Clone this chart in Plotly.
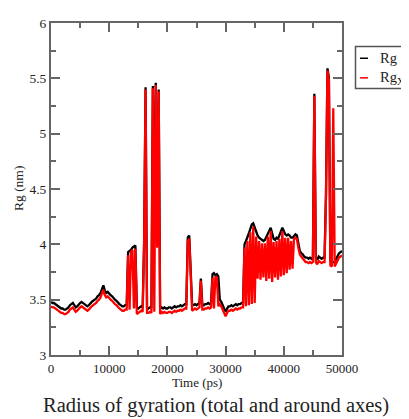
import plotly.graph_objects as go

# ---------------- data ----------------
time_ps = list(range(0, 50001, 250))

rg_total = [
    # 0 - 4750
    3.48, 3.47, 3.47, 3.46, 3.45, 3.44, 3.43, 3.42, 3.42, 3.41, 3.41, 3.42, 3.43, 3.45, 3.46, 3.47, 3.45, 3.43, 3.44, 3.46,
    # 5000 - 9750
    3.47, 3.48, 3.47, 3.46, 3.45, 3.44, 3.45, 3.47, 3.48, 3.49, 3.50, 3.51, 3.53, 3.54, 3.56, 3.59, 3.63, 3.58, 3.56, 3.57,
    # 10000 - 14750
    3.55, 3.54, 3.53, 3.51, 3.50, 3.49, 3.47, 3.46, 3.45, 3.44, 3.44, 3.45, 3.45, 3.93, 3.94, 3.95, 3.97, 3.98, 3.99, 3.43,
    # 15000 - 19750
    3.42, 3.43, 3.44, 3.43, 4.03, 5.42, 3.43, 3.42, 3.43, 3.43, 5.43, 4.01, 5.46, 3.99, 5.40, 3.42, 3.43, 3.42, 3.43, 3.42,
    # 20000 - 24750
    3.42, 3.43, 3.43, 3.42, 3.43, 3.44, 3.43, 3.44, 3.44, 3.45, 3.44, 3.45, 3.46, 3.46, 4.06, 4.08, 3.74, 3.45, 3.45, 3.46,
    # 25000 - 29750
    3.45, 3.46, 3.47, 3.69, 3.46, 3.45, 3.46, 3.46, 3.47, 3.46, 3.47, 3.73, 3.74, 3.72, 3.73, 3.71, 3.50, 3.48, 3.45, 3.42,
    # 30000 - 34750
    3.39, 3.42, 3.44, 3.44, 3.45, 3.44, 3.45, 3.46, 3.45, 3.46, 3.46, 3.47, 3.47, 4.00, 4.03, 4.06, 4.10, 4.14, 4.18, 4.19,
    # 35000 - 39750
    4.15, 4.10, 4.08, 4.06, 4.05, 4.04, 4.03, 4.04, 4.07, 4.10, 4.13, 4.15, 4.10, 4.05, 4.04, 4.06, 4.05, 4.08, 4.12, 4.15,
    # 40000 - 44750
    4.12, 4.09, 4.08, 4.09, 4.08, 4.06, 4.06, 4.08, 4.09, 4.08, 4.00, 3.94, 3.92, 3.91, 3.89, 3.88, 3.88, 3.87, 3.88, 3.87,
    # 45000 - 49750
    3.88, 5.36, 3.88, 3.86, 3.89, 3.88, 3.87, 3.88, 3.88, 4.46, 5.59, 5.51, 3.85, 3.84, 3.84, 3.84, 3.87, 3.90, 3.92, 3.93,
    # 50000
    3.94,
]

rg_x = [
    # 0 - 4750
    3.44, 3.43, 3.43, 3.42, 3.41, 3.40, 3.39, 3.38, 3.38, 3.37, 3.37, 3.38, 3.39, 3.41, 3.42, 3.43, 3.41, 3.39, 3.40, 3.42,
    # 5000 - 9750
    3.43, 3.44, 3.43, 3.42, 3.41, 3.40, 3.41, 3.43, 3.44, 3.45, 3.46, 3.47, 3.49, 3.50, 3.52, 3.55, 3.59, 3.54, 3.52, 3.53,
    # 10000 - 14750
    3.51, 3.50, 3.49, 3.47, 3.46, 3.45, 3.43, 3.42, 3.41, 3.40, 3.40, 3.41, 3.41, 3.90, 3.41, 3.93, 3.95, 3.42, 3.96, 3.37,
    # 15000 - 19750
    3.38, 3.39, 3.40, 3.39, 4.00, 5.40, 3.38, 3.38, 3.39, 3.38, 5.41, 3.39, 5.44, 3.97, 5.38, 3.37, 3.39, 3.38, 3.39, 3.38,
    # 20000 - 24750
    3.38, 3.39, 3.39, 3.38, 3.39, 3.40, 3.39, 3.40, 3.40, 3.41, 3.40, 3.41, 3.42, 3.42, 4.03, 4.05, 3.72, 3.40, 3.41, 3.42,
    # 25000 - 29750
    3.41, 3.42, 3.43, 3.67, 3.41, 3.41, 3.42, 3.42, 3.43, 3.42, 3.43, 3.70, 3.42, 3.71, 3.70, 3.44, 3.46, 3.44, 3.41, 3.38,
    # 30000 - 34750
    3.35, 3.38, 3.40, 3.40, 3.41, 3.40, 3.41, 3.42, 3.41, 3.42, 3.42, 3.43, 3.43, 3.97, 3.44, 4.03, 3.45, 4.11, 3.46, 4.16,
    # 35000 - 39750
    3.47, 4.07, 3.69, 4.03, 3.68, 4.01, 3.70, 4.01, 3.67, 4.07, 3.69, 4.12, 3.66, 4.02, 3.70, 4.03, 3.68, 4.05, 3.71, 4.12,
    # 40000 - 44750
    3.72, 4.06, 3.74, 4.06, 3.77, 4.03, 3.78, 4.05, 4.06, 4.05, 3.97, 3.91, 3.89, 3.87, 3.85, 3.84, 3.84, 3.83, 3.84, 3.83,
    # 45000 - 49750
    3.84, 5.34, 3.84, 3.82, 3.85, 3.84, 3.83, 3.84, 3.84, 4.43, 5.57, 5.48, 3.81, 3.80, 5.23, 3.80, 3.83, 3.86, 3.88, 3.89,
    # 50000
    3.90,
]

series_names = ["Rg", "Rg<sub>X</sub>"]
series_colors = ["#000000", "#ff0000"]
x_ticks = [0, 10000, 20000, 30000, 40000, 50000]
y_ticks = [3, 3.5, 4, 4.5, 5, 5.5, 6]

# ---------------- figure ----------------
# the page adds an 8px body margin, so the figure is drawn 8px in from the top-left
OFF = 8
W, H = 409 - OFF, 419 - OFF
PL, PR, PT, PB = 51, 342, 16, 355          # plot-area edges in window pixels
L, R, T, B = PL - OFF, W - (PR - OFF), PT - OFF, H - (PB - OFF)
pw, ph = W - L - R, H - T - B

def px(xwin):
    return (xwin - OFF - L) / pw

def py(ywin):
    return (H - B - (ywin - OFF)) / ph

font_family = "Liberation Serif, Times New Roman, serif"
axis_color = "#666666"
text_color = "#222222"

fig = go.Figure()
for vals, name, col in zip([rg_total, rg_x], series_names, series_colors):
    fig.add_trace(go.Scatter(x=time_ps, y=vals, mode="lines", name=name,
                             line=dict(color=col, width=2.3), showlegend=False))

axis_common = dict(
    showline=True, linecolor=axis_color, linewidth=2, mirror="allticks",
    ticks="inside", ticklen=9, tickwidth=1.5, tickcolor=axis_color,
    showgrid=False, zeroline=False,
    tickfont=dict(family=font_family, size=13.5, color=text_color),
)

fig.update_xaxes(range=[0, 50000], tickvals=x_ticks, tickformat="d",
                 minor=dict(dtick=5000, ticks="inside", ticklen=5, tickcolor=axis_color, tickwidth=1.5),
                 **axis_common)
fig.update_yaxes(range=[3, 6], tickvals=y_ticks,
                 minor=dict(dtick=0.25, ticks="inside", ticklen=5, tickcolor=axis_color, tickwidth=1.5),
                 **axis_common)
fig.update_xaxes(tickfont=dict(size=13))

annotations = [
    dict(text="Time (ps)", x=0.5, y=py(383), xref="paper", yref="paper",
         showarrow=False, xanchor="center", yanchor="middle",
         font=dict(family=font_family, size=13, color=text_color)),
    dict(text="Rg (nm)", x=px(18), y=0.5, xref="paper", yref="paper", textangle=-90,
         showarrow=False, xanchor="center", yanchor="middle",
         font=dict(family=font_family, size=13.5, color=text_color)),
    dict(text="Radius of gyration (total and around axes)", x=px(216), y=py(407),
         xref="paper", yref="paper", showarrow=False, xanchor="center", yanchor="middle",
         font=dict(family=font_family, size=20.5, color=text_color)),
]

# legend box drawn in Grace style
shapes = [dict(type="rect", xref="paper", yref="paper",
               x0=px(355.5), x1=px(412), y0=py(83), y1=py(40),
               line=dict(color="#555555", width=1.5), fillcolor="white")]
for i, (name, col) in enumerate(zip(series_names, series_colors)):
    yy = py(52 + 20 * i)
    shapes.append(dict(type="line", xref="paper", yref="paper",
                       x0=px(360), x1=px(368), y0=yy, y1=yy,
                       line=dict(color=col, width=1.5)))
    annotations.append(dict(text=name, x=px(379), y=yy, xref="paper", yref="paper",
                            showarrow=False, xanchor="left", yanchor="middle", borderpad=0,
                            font=dict(family=font_family, size=14.5, color=text_color)))

fig.update_layout(
    width=W, height=H, margin=dict(l=L, r=R, t=T, b=B, pad=0),
    paper_bgcolor="white", plot_bgcolor="white",
    annotations=annotations, shapes=shapes, showlegend=False,
)

fig.write_html("out.html")
